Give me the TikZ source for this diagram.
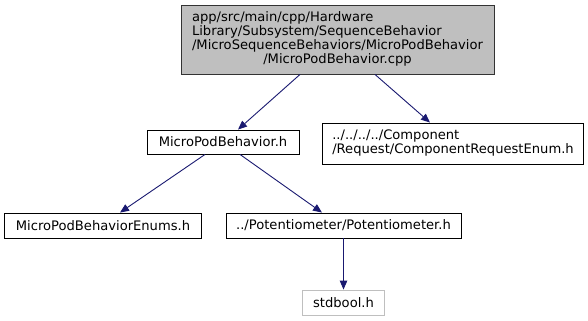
\documentclass[tikz,border=0pt]{standalone}
\usepackage{fontspec}
\setmainfont{DejaVu Sans}
\usetikzlibrary{arrows.meta}
\definecolor{edgeblue}{HTML}{191970}
\definecolor{rootfill}{HTML}{BFBFBF}
\definecolor{extborder}{HTML}{BFBFBF}
\tikzset{
  filebox/.style={draw=black, line width=0.9bp, rectangle, inner sep=0pt,
    font=\fontsize{13.1bp}{14bp}\selectfont},
  rootbox/.style={filebox, fill=rootfill, draw=black!80},
  extbox/.style={filebox, draw=extborder},
  dep/.style={draw=edgeblue, line width=0.9bp,
    -{Triangle[length=9bp,width=7.5bp]}}
}
\begin{document}
\begin{tikzpicture}[x=1bp,y=-1bp]
  \useasboundingbox (0,0) rectangle (588,320);
  % file nodes, sized as fixed boxes
  \node[rootbox, minimum width=313bp, minimum height=69bp] (root) at (337.5,39.5)
    {\begin{tabular}{@{}l@{}}app/src/main/cpp/Hardware\\
      Library/Subsystem/SequenceBehavior\\
      /MicroSequenceBehaviors/MicroPodBehavior\\
      \multicolumn{1}{@{}c@{}}{/MicroPodBehavior.cpp}\end{tabular}};
  \node[filebox, minimum width=152bp, minimum height=24bp] (mpb) at (223,142)
    {MicroPodBehavior.h};
  \node[filebox, minimum width=261bp, minimum height=41bp] (req) at (453,143.5)
    {\begin{tabular}{@{}l@{}}../../../../Component\\
      /Request/ComponentRequestEnum.h\end{tabular}};
  \node[filebox, minimum width=197bp, minimum height=25bp] (enums) at (103,225.5)
    {MicroPodBehaviorEnums.h};
  \node[filebox, minimum width=235bp, minimum height=25bp] (pot) at (343.5,225.5)
    {../Potentiometer/Potentiometer.h};
  \node[extbox, minimum width=82bp, minimum height=25bp] (stdb) at (343.5,302.5)
    {stdbool.h};
  % include edges
  \draw[dep] (root.south -| 300,0) -- (mpb.north -| 238,0);
  \draw[dep] (root.south -| 375,0) -- (req.north -| 430,0);
  \draw[dep] (mpb.south -| 205,0) -- (enums.north -| 120,0);
  \draw[dep] (mpb.south -| 240,0) -- (pot.north -| 322,0);
  \draw[dep] (pot.south) -- (stdb.north);
\end{tikzpicture}
\end{document}
